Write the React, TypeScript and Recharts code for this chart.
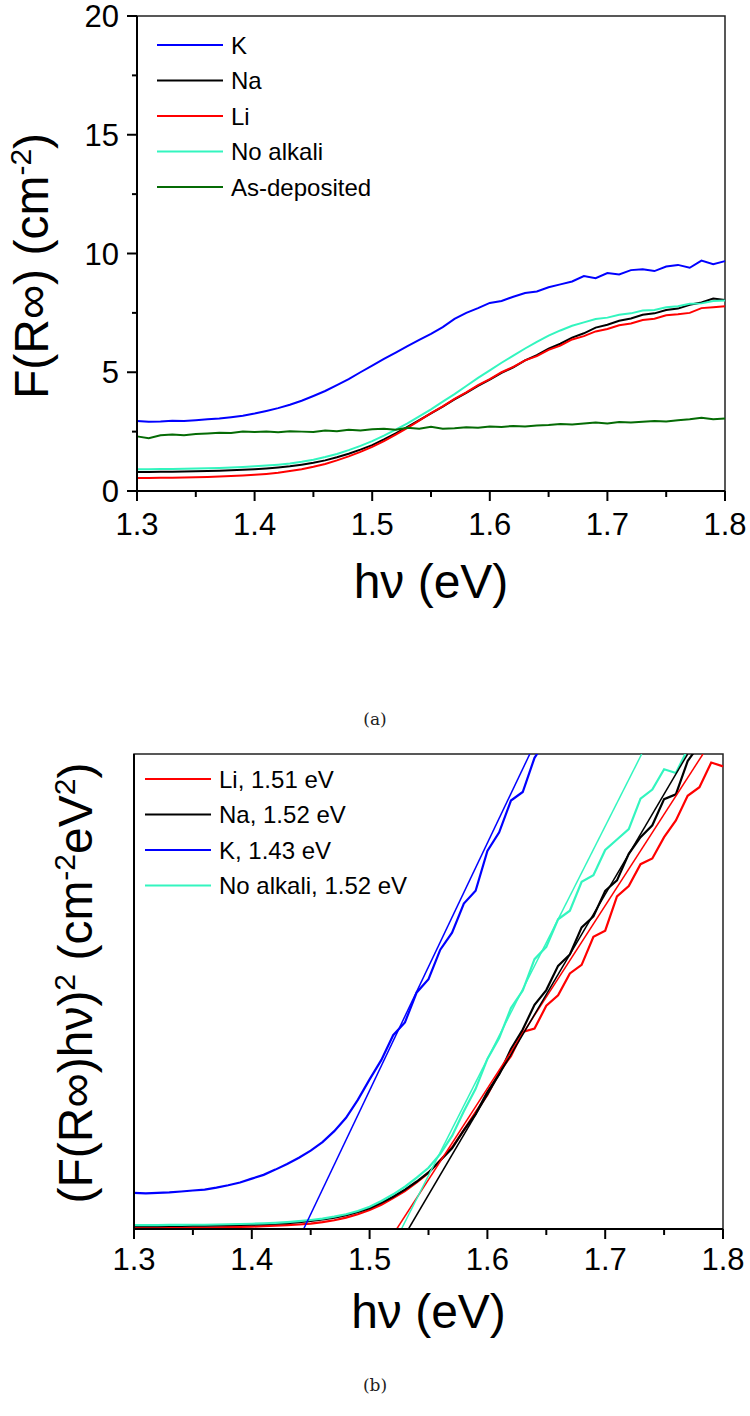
import React from 'react';
import { LineChart, Line, XAxis, YAxis, ReferenceArea, Legend, Label } from 'recharts';

// photon energy grid (eV), shared by every measured curve
const energy = [
  1.30, 1.31, 1.32, 1.33, 1.34, 1.35, 1.36, 1.37, 1.38, 1.39,
  1.40, 1.41, 1.42, 1.43, 1.44, 1.45, 1.46, 1.47, 1.48, 1.49,
  1.50, 1.51, 1.52, 1.53, 1.54, 1.55, 1.56, 1.57, 1.58, 1.59,
  1.60, 1.61, 1.62, 1.63, 1.64, 1.65, 1.66, 1.67, 1.68, 1.69,
  1.70, 1.71, 1.72, 1.73, 1.74, 1.75, 1.76, 1.77, 1.78, 1.79, 1.80,
];

// (a) F(R∞) in cm^-2
const kA = [
  2.95, 2.92, 2.93, 2.96, 2.95, 2.98, 3.02, 3.05, 3.11, 3.17,
  3.26, 3.37, 3.49, 3.63, 3.80, 4.00, 4.21, 4.46, 4.71, 5.00,
  5.28, 5.56, 5.83, 6.10, 6.36, 6.62, 6.90, 7.25, 7.50, 7.70,
  7.92, 8.00, 8.18, 8.34, 8.40, 8.58, 8.70, 8.82, 9.05, 8.96,
  9.18, 9.12, 9.30, 9.34, 9.26, 9.45, 9.52, 9.40, 9.70, 9.55, 9.68,
];
const naA = [
  0.80, 0.80, 0.81, 0.81, 0.82, 0.83, 0.84, 0.85, 0.87, 0.89,
  0.92, 0.95, 0.99, 1.04, 1.11, 1.19, 1.29, 1.42, 1.57, 1.74,
  1.93, 2.17, 2.43, 2.70, 2.98, 3.27, 3.55, 3.86, 4.13, 4.43,
  4.69, 4.97, 5.21, 5.50, 5.72, 5.99, 6.20, 6.46, 6.64, 6.88,
  7.00, 7.17, 7.26, 7.42, 7.48, 7.62, 7.68, 7.84, 7.94, 8.10, 8.04,
];
const liA = [
  0.55, 0.55, 0.56, 0.56, 0.57, 0.58, 0.59, 0.61, 0.63, 0.65,
  0.68, 0.72, 0.77, 0.84, 0.92, 1.02, 1.14, 1.29, 1.46, 1.65,
  1.86, 2.10, 2.37, 2.66, 2.96, 3.28, 3.56, 3.88, 4.15, 4.46,
  4.71, 5.00, 5.23, 5.50, 5.68, 5.94, 6.12, 6.38, 6.52, 6.72,
  6.82, 6.98, 7.05, 7.20, 7.25, 7.40, 7.44, 7.50, 7.70, 7.74, 7.78,
];
const noAlkaliA = [
  0.92, 0.92, 0.93, 0.93, 0.94, 0.95, 0.96, 0.97, 0.99, 1.01,
  1.04, 1.07, 1.11, 1.16, 1.23, 1.32, 1.43, 1.56, 1.72, 1.90,
  2.10, 2.33, 2.58, 2.85, 3.14, 3.44, 3.76, 4.08, 4.42, 4.76,
  5.08, 5.40, 5.70, 6.00, 6.28, 6.54, 6.76, 6.96, 7.10, 7.24,
  7.30, 7.42, 7.48, 7.60, 7.62, 7.74, 7.78, 7.88, 7.90, 8.00, 8.02,
];
const asDepA = [
  2.30, 2.22, 2.35, 2.38, 2.35, 2.40, 2.42, 2.45, 2.44, 2.50,
  2.48, 2.50, 2.47, 2.52, 2.50, 2.48, 2.55, 2.52, 2.58, 2.55,
  2.60, 2.62, 2.58, 2.66, 2.62, 2.70, 2.62, 2.64, 2.68, 2.66,
  2.72, 2.70, 2.74, 2.72, 2.76, 2.78, 2.82, 2.80, 2.84, 2.88,
  2.84, 2.90, 2.88, 2.92, 2.95, 2.93, 2.98, 3.02, 3.08, 3.02, 3.05,
];

// (b) (F(R∞)hν)^2, arbitrary units (axis top = 100)
const liB = [
  0.2, 0.2, 0.2, 0.25, 0.25, 0.3, 0.3, 0.35, 0.4, 0.45,
  0.5, 0.6, 0.7, 0.8, 0.95, 1.15, 1.45, 1.85, 2.4, 3.1,
  4.0, 5.1, 6.5, 8.0, 9.8, 11.8, 14.5, 17.2, 20.8, 24.6,
  28.2, 33.0, 36.4, 41.5, 42.2, 47.0, 49.2, 53.8, 55.6, 61.5,
  62.8, 70.0, 72.2, 76.8, 78.0, 82.5, 86.0, 91.2, 93.0, 98.2, 97.4,
];
const naB = [
  0.6, 0.6, 0.6, 0.65, 0.65, 0.7, 0.7, 0.75, 0.8, 0.85,
  0.9, 1.0, 1.1, 1.25, 1.45, 1.7, 2.0, 2.4, 2.9, 3.6,
  4.4, 5.5, 6.8, 8.3, 10.0, 11.9, 14.4, 17.0, 20.8, 24.2,
  28.9, 32.6, 37.9, 42.0, 47.2, 50.3, 55.4, 57.8, 63.5, 65.8,
  71.2, 73.4, 79.0, 82.5, 85.0, 90.5, 91.5, 98.5, 102, null, null,
];
const kB = [
  7.6, 7.5, 7.6, 7.7, 7.9, 8.1, 8.3, 8.7, 9.2, 9.8,
  10.6, 11.4, 12.5, 13.7, 15.0, 16.5, 18.3, 20.6, 23.4, 27.2,
  31.5, 35.6, 40.8, 43.5, 49.8, 52.6, 58.8, 62.4, 68.5, 71.2,
  79.6, 83.5, 90.2, 92.0, 99.2, 103, null, null, null, null,
  null, null, null, null, null, null, null, null, null, null, null,
];
const noAlkaliB = [
  0.8, 0.8, 0.8, 0.85, 0.85, 0.9, 0.9, 0.95, 1.0, 1.05,
  1.1, 1.2, 1.3, 1.45, 1.65, 1.9, 2.2, 2.6, 3.1, 3.8,
  4.7, 5.9, 7.3, 8.9, 10.8, 12.9, 15.8, 19.6, 24.8, 29.5,
  35.8, 40.2, 46.5, 50.2, 56.8, 59.4, 65.2, 67.0, 73.1, 74.5,
  79.8, 82.0, 84.2, 90.6, 92.5, 96.8, 96.0, 101, null, null, null,
];

// linear Tauc fits: [start, end] energies for y = 0 and y = 100
const fitY = [0, 100];
const fitLiX = [1.523, 1.783];
const fitNaX = [1.533, 1.770];
const fitKX = [1.444, 1.636];
const fitNoAlkaliX = [1.527, 1.731];

const xTicks = [1.3, 1.35, 1.4, 1.45, 1.5, 1.55, 1.6, 1.65, 1.7, 1.75, 1.8];
const yTicksA = [0, 2.5, 5, 7.5, 10, 12.5, 15, 17.5, 20];

const BLUE = '#0000ff';
const BLACK = '#000000';
const RED = '#ff0000';
const AQUA = '#33f5bf';
const GREEN = '#056b05';
const FONT = '"Liberation Sans", Arial, Helvetica, sans-serif';

const dataA = energy.map((x, i) => ({
  x, k: kA[i], na: naA[i], li: liA[i], noAlkali: noAlkaliA[i], asDep: asDepA[i],
}));
const dataB = energy.map((x, i) => ({
  x, li: liB[i], na: naB[i], k: kB[i], noAlkali: noAlkaliB[i],
}));
const toFit = (xs: number[]) => xs.map((x, i) => ({ x, y: fitY[i] }));

const legendA = [
  { label: 'K', color: BLUE },
  { label: 'Na', color: BLACK },
  { label: 'Li', color: RED },
  { label: 'No alkali', color: AQUA },
  { label: 'As-deposited', color: GREEN },
];
const legendB = [
  { label: 'Li, 1.51 eV', color: RED },
  { label: 'Na, 1.52 eV', color: BLACK },
  { label: 'K, 1.43 eV', color: BLUE },
  { label: 'No alkali, 1.52 eV', color: AQUA },
];

function BottomTick(props: any) {
  const { x, y, payload, labelDy } = props;
  const v = payload.value;
  const major = Math.round(v * 100) % 10 === 0;
  return (
    <g>
      <line x1={x} x2={x} y1={y} y2={y + (major ? 10 : 6)} stroke="#000" strokeWidth={2} />
      {major && (
        <text x={x} y={y + labelDy} textAnchor="middle" fontSize={31} fill="#000">
          {v.toFixed(1)}
        </text>
      )}
    </g>
  );
}

function LeftTick(props: any) {
  const { x, y, payload } = props;
  const v = payload.value;
  const major = v % 5 === 0;
  return (
    <g>
      <line x1={x - (major ? 10 : 5)} x2={x} y1={y} y2={y} stroke="#000" strokeWidth={2} />
      {major && (
        <text x={x - 18} y={y + 11} textAnchor="end" fontSize={31} fill="#000">
          {v}
        </text>
      )}
    </g>
  );
}

function LegendBox({ items, x0, y0 }: { items: { label: string; color: string }[]; x0: number; y0: number }) {
  return (
    <svg width={420} height={230} style={{ overflow: 'visible' }}>
      {items.map((it, i) => {
        const cy = y0 + i * 35.5;
        return (
          <g key={it.label}>
            <line x1={x0} x2={x0 + 66} y1={cy} y2={cy} stroke={it.color} strokeWidth={2} />
            <text x={x0 + 74} y={cy + 8.5} fontSize={24} fill="#000" fontFamily={FONT}>
              {it.label}
            </text>
          </g>
        );
      })}
    </svg>
  );
}

function ChartA() {
  return (
    <LineChart width={750} height={640} data={dataA} margin={{ top: 16, right: 25, bottom: 0, left: 0 }}>
      <ReferenceArea x1={1.3} x2={1.8} y1={0} y2={20} fill="none" stroke="#222" strokeWidth={1.5} />
      <XAxis
        dataKey="x"
        type="number"
        domain={[1.3, 1.8]}
        ticks={xTicks}
        interval={0}
        height={149}
        tickSize={0}
        tickMargin={0}
        tickLine={false}
        axisLine={{ stroke: '#000', strokeWidth: 2 }}
        tick={(p: any) => <BottomTick {...p} labelDy={44} />}
      >
        <Label
          content={() => (
            <text x={431} y={598} textAnchor="middle" fontSize={48} fill="#000">
              hν (eV)
            </text>
          )}
        />
      </XAxis>
      <YAxis
        type="number"
        domain={[0, 20]}
        ticks={yTicksA}
        interval={0}
        width={137}
        tickSize={0}
        tickMargin={0}
        tickLine={false}
        axisLine={{ stroke: '#000', strokeWidth: 2 }}
        tick={(p: any) => <LeftTick {...p} />}
      >
        <Label
          content={() => (
            <text x={48} y={266} transform="rotate(-90 48 266)" textAnchor="middle" fontSize={48} fill="#000">
              F(R∞) (cm
              <tspan dy={-17} fontSize={30}>-2</tspan>
              <tspan dy={17}>)</tspan>
            </text>
          )}
        />
      </YAxis>
      <Legend
        layout="vertical"
        align="center"
        verticalAlign="middle"
        wrapperStyle={{ left: 0, top: 0, width: 420, height: 230 }}
        content={() => <LegendBox items={legendA} x0={157} y0={45} />}
      />
      <Line dataKey="k" stroke={BLUE} strokeWidth={2} dot={false} activeDot={false} isAnimationActive={false} />
      <Line dataKey="na" stroke={BLACK} strokeWidth={2} dot={false} activeDot={false} isAnimationActive={false} />
      <Line dataKey="li" stroke={RED} strokeWidth={2} dot={false} activeDot={false} isAnimationActive={false} />
      <Line dataKey="noAlkali" stroke={AQUA} strokeWidth={2} dot={false} activeDot={false} isAnimationActive={false} />
      <Line dataKey="asDep" stroke={GREEN} strokeWidth={2} dot={false} activeDot={false} isAnimationActive={false} />
    </LineChart>
  );
}

function ChartB() {
  return (
    <LineChart width={750} height={620} data={dataB} margin={{ top: 14, right: 27, bottom: 0, left: 0 }}>
      <ReferenceArea x1={1.3} x2={1.8} y1={0} y2={100} fill="none" stroke="#222" strokeWidth={1.5} />
      <XAxis
        dataKey="x"
        type="number"
        domain={[1.3, 1.8]}
        ticks={xTicks}
        interval={0}
        height={131}
        tickSize={0}
        tickMargin={0}
        tickLine={false}
        axisLine={{ stroke: '#000', strokeWidth: 2 }}
        tick={(p: any) => <BottomTick {...p} labelDy={41} />}
      >
        <Label
          content={() => (
            <text x={428.5} y={588} textAnchor="middle" fontSize={48} fill="#000">
              hν (eV)
            </text>
          )}
        />
      </XAxis>
      <YAxis
        type="number"
        domain={[0, 100]}
        allowDataOverflow
        width={134}
        tick={false}
        tickLine={false}
        axisLine={{ stroke: '#000', strokeWidth: 2 }}
      >
        <Label
          content={() => (
            <text x={92} y={243} transform="rotate(-90 92 243)" textAnchor="middle" fontSize={48} fill="#000">
              (F(R∞)hν)
              <tspan dy={-17} fontSize={30}>2</tspan>
              <tspan dy={17}> (cm</tspan>
              <tspan dy={-17} fontSize={30}>-2</tspan>
              <tspan dy={17}>eV</tspan>
              <tspan dy={-17} fontSize={30}>2</tspan>
              <tspan dy={17}>)</tspan>
            </text>
          )}
        />
      </YAxis>
      <Legend
        layout="vertical"
        align="center"
        verticalAlign="middle"
        wrapperStyle={{ left: 0, top: 0, width: 420, height: 200 }}
        content={() => <LegendBox items={legendB} x0={145} y0={39} />}
      />
      <Line dataKey="li" stroke={RED} strokeWidth={2.2} dot={false} activeDot={false} isAnimationActive={false} />
      <Line dataKey="na" stroke={BLACK} strokeWidth={2.2} dot={false} activeDot={false} isAnimationActive={false} />
      <Line dataKey="k" stroke={BLUE} strokeWidth={2.2} dot={false} activeDot={false} isAnimationActive={false} />
      <Line dataKey="noAlkali" stroke={AQUA} strokeWidth={2.2} dot={false} activeDot={false} isAnimationActive={false} />
      <Line data={toFit(fitLiX)} dataKey="y" stroke={RED} strokeWidth={1.5} dot={false} activeDot={false} isAnimationActive={false} />
      <Line data={toFit(fitNaX)} dataKey="y" stroke={BLACK} strokeWidth={1.5} dot={false} activeDot={false} isAnimationActive={false} />
      <Line data={toFit(fitKX)} dataKey="y" stroke={BLUE} strokeWidth={1.5} dot={false} activeDot={false} isAnimationActive={false} />
      <Line data={toFit(fitNoAlkaliX)} dataKey="y" stroke={AQUA} strokeWidth={1.5} dot={false} activeDot={false} isAnimationActive={false} />
    </LineChart>
  );
}

const captionStyle: React.CSSProperties = {
  position: 'absolute',
  left: 0,
  width: 750,
  textAlign: 'center',
  fontFamily: '"DejaVu Serif", "Liberation Serif", serif',
  fontSize: 17,
  lineHeight: '20px',
  color: '#222',
};

export default function App() {
  return (
    <div style={{ position: 'absolute', left: 0, top: 0, width: 750, height: 1416, background: '#fff', fontFamily: FONT }}>
      <div style={{ position: 'absolute', left: 0, top: 0 }}>
        <ChartA />
      </div>
      <div style={{ ...captionStyle, top: 709 }}>(a)</div>
      <div style={{ position: 'absolute', left: 0, top: 740 }}>
        <ChartB />
      </div>
      <div style={{ ...captionStyle, top: 1375 }}>(b)</div>
    </div>
  );
}
